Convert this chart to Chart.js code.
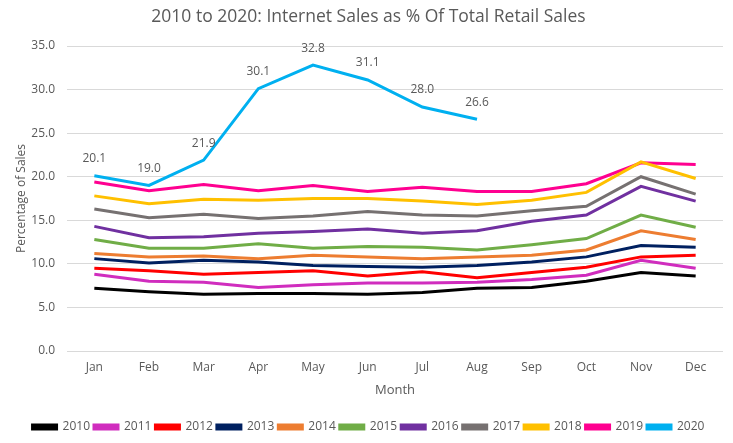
<!DOCTYPE html>
<html>
<head>
<meta charset="utf-8">
<script src="https://cdn.jsdelivr.net/npm/chart.js@4"></script>
<style>
  body { margin: 0; background: #fff; }
  #wrap { width: 733px; height: 443px; }
</style>
</head>
<body>
<div id="wrap"><canvas id="salesChart"></canvas></div>
<script>
// Internet sales as % of total retail sales, monthly, 2010-2020
const months = ['Jan', 'Feb', 'Mar', 'Apr', 'May', 'Jun', 'Jul', 'Aug', 'Sep', 'Oct', 'Nov', 'Dec'];
const years = ['2010', '2011', '2012', '2013', '2014', '2015', '2016', '2017', '2018', '2019', '2020'];

const s2010 = [7.2, 6.8, 6.5, 6.6, 6.6, 6.5, 6.7, 7.2, 7.3, 8.0, 9.0, 8.6];
const s2011 = [8.8, 8.0, 7.9, 7.3, 7.6, 7.8, 7.8, 7.9, 8.2, 8.7, 10.4, 9.5];
const s2012 = [9.5, 9.2, 8.8, 9.0, 9.2, 8.6, 9.1, 8.4, 9.0, 9.6, 10.8, 11.0];
const s2013 = [10.6, 10.1, 10.4, 10.2, 9.8, 9.7, 9.6, 9.8, 10.2, 10.8, 12.1, 11.9];
const s2014 = [11.2, 10.8, 10.9, 10.6, 11.0, 10.8, 10.6, 10.8, 11.0, 11.6, 13.8, 12.8];
const s2015 = [12.8, 11.8, 11.8, 12.3, 11.8, 12.0, 11.9, 11.6, 12.2, 12.9, 15.6, 14.2];
const s2016 = [14.3, 13.0, 13.1, 13.5, 13.7, 14.0, 13.5, 13.8, 14.9, 15.6, 18.9, 17.2];
const s2017 = [16.3, 15.3, 15.7, 15.2, 15.5, 16.0, 15.6, 15.5, 16.1, 16.6, 20.0, 18.0];
const s2018 = [17.8, 16.9, 17.4, 17.3, 17.5, 17.5, 17.2, 16.8, 17.3, 18.2, 21.7, 19.8];
const s2019 = [19.4, 18.4, 19.1, 18.4, 19.0, 18.3, 18.8, 18.3, 18.3, 19.2, 21.6, 21.4];
const s2020 = [20.1, 19.0, 21.9, 30.1, 32.8, 31.1, 28.0, 26.6, null, null, null, null];

const series = [s2010, s2011, s2012, s2013, s2014, s2015, s2016, s2017, s2018, s2019, s2020];
const colors = ['#000000', '#D02DBE', '#FF0000', '#002060', '#ED7D31', '#70AD47',
                '#7030A0', '#767171', '#FFC000', '#FF0090', '#00B0F0'];

const txt = '#595959';
const fam = '"Open Sans", "Liberation Sans", sans-serif';

// value labels above the 2020 line
const labels2020 = {
    id: 'labels2020',
    afterDatasetsDraw(chart) {
        const ctx = chart.ctx;
        const idx = years.indexOf('2020');
        const meta = chart.getDatasetMeta(idx);
        ctx.save();
        ctx.fillStyle = txt;
        ctx.font = '12px ' + fam;
        ctx.textAlign = 'center';
        ctx.textBaseline = 'middle';
        meta.data.forEach((pt, i) => {
            const v = series[idx][i];
            if (v === null) return;
            ctx.fillText(v.toFixed(1), pt.x, pt.y - 17);
        });
        ctx.restore();
    }
};

let ctx = document.getElementById('salesChart').getContext('2d');
let myChart = new Chart(ctx, {
    type: 'line',
    data: {
        labels: months,
        datasets: years.map((y, i) => ({
            label: y,
            data: series[i],
            borderColor: colors[i],
            backgroundColor: colors[i],
            borderWidth: 3,
            pointRadius: 0,
            tension: 0,
            spanGaps: false
        }))
    },
    options: {
        responsive: true,
        maintainAspectRatio: false,
        animation: false,
        layout: { padding: { left: 14, right: 10, top: 7, bottom: 0 } },
        plugins: {
            title: {
                display: true,
                text: '2010 to 2020: Internet Sales as % Of Total Retail Sales',
                color: txt,
                font: { family: fam, size: 17.5, weight: 'normal' },
                padding: { top: 0, bottom: 18 }
            },
            legend: {
                position: 'bottom',
                labels: {
                    color: txt,
                    font: { family: fam, size: 12 },
                    boxWidth: 24,
                    boxHeight: 4,
                    padding: 4
                }
            },
            tooltip: { enabled: false }
        },
        scales: {
            x: {
                offset: true,
                grid: { display: false },
                border: { display: false },
                ticks: { color: txt, font: { family: fam, size: 12 }, padding: 1 },
                title: {
                    display: true,
                    text: 'Month',
                    color: txt,
                    font: { family: fam, size: 13 },
                    padding: { top: 7, bottom: 19 }
                }
            },
            y: {
                min: 0,
                max: 35,
                afterFit: scale => { scale.width = 53; },
                grid: { color: '#D9D9D9', drawTicks: false },
                border: { display: false },
                ticks: {
                    stepSize: 5,
                    color: txt,
                    font: { family: fam, size: 12 },
                    padding: 12,
                    callback: v => v.toFixed(1)
                },
                title: {
                    display: true,
                    text: 'Percentage of Sales',
                    color: txt,
                    font: { family: fam, size: 12 },
                    padding: { top: 0, bottom: 0 }
                }
            }
        }
    },
    plugins: [labels2020]
});
</script>
</body>
</html>
